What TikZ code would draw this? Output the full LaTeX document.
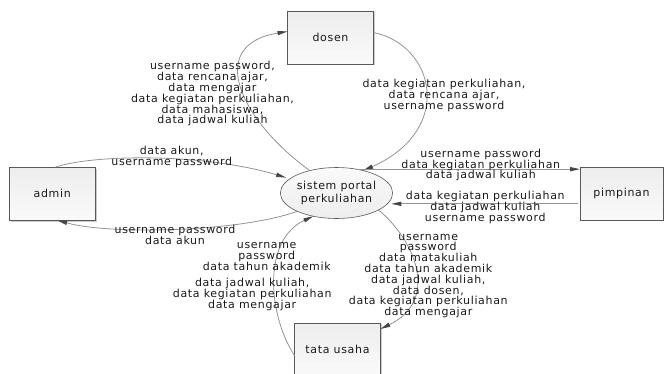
\documentclass[tikz,border=0pt]{standalone}
\usepackage{fontspec}
\setmainfont[LetterSpace=6]{DejaVu Sans}
\usetikzlibrary{arrows.meta,shapes.geometric,shadows,calc}

\tikzset{
  entity/.style={rectangle, draw=gray!70!black, line width=0.6pt,
    top color=gray!14, bottom color=gray!4,
    drop shadow={shadow xshift=1.3pt, shadow yshift=-1.3pt, fill=gray!70, opacity=.6},
    minimum width=86pt, minimum height=53pt, inner sep=0pt, outer sep=0pt,
    font=\fontsize{11}{11}\selectfont, text=black!90},
  process/.style={ellipse, draw=gray!70!black, line width=0.6pt,
    top color=gray!4, bottom color=gray!14,
    minimum width=100pt, minimum height=51pt, inner sep=0pt, outer sep=0pt,
    align=center, font=\fontsize{11}{12.5}\selectfont, text=black!90},
  flow/.style={draw=gray!85, line width=0.8pt,
    -{Triangle[length=10pt,width=4.2pt,color=gray!55!black,fill=gray!55!black]}},
  lbl/.style={align=center, inner sep=0pt,
    font=\fontsize{11}{10.8}\selectfont, text=black!90}
}

\begin{document}
\begin{tikzpicture}[x=1pt,y=-1pt]
\useasboundingbox (0,0) rectangle (665,373);

% external entities and the process
\node[entity] (dosen) at (330.5,37.5) {dosen};
\node[entity] (admin) at (52.2,193.7) {admin};
\node[entity, minimum width=83pt] (pimp) at (621.5,193.5) {pimpinan};
\node[entity] (tata) at (337.5,349.5) {tata usaha};
\node[process] (proc) at (336.5,193) {sistem portal\\perkuliahan};

% data flows
\draw[flow] (proc.140) .. controls (240,120) and (205,45) .. ([yshift=6pt]dosen.west);
\draw[flow] ([yshift=5pt]dosen.east) .. controls (435,45) and (455,130) .. (proc.40);
\draw[flow, shorten >=4pt] ([xshift=3pt]admin.north) .. controls (90,155) and (200,152) .. (proc.163);
\draw[flow] (proc.205) .. controls (240,232) and (110,235) .. ([xshift=5pt]admin.south);
\draw[flow] (proc.50) -- (proc.50 -| pimp.west);
\draw[flow, shorten >=4pt, shorten <=2pt] (pimp.west |- proc.-12) -- (proc.-12);
\draw[flow] ([yshift=-6pt]tata.west) .. controls (268,315) and (262,240) .. (proc.225);
\draw[flow] (proc.-22) .. controls (415,240) and (440,300) .. ([yshift=-6pt]tata.north east);

% flow labels
\node[lbl] (l1) at (212.5,93.8) {username password,\\data rencana ajar,\\data mengajar\\data kegiatan perkuliahan,\\data mahasiswa,\\data jadwal kuliah};
\node[lbl] (l2) at (444,95.5) {data kegiatan perkuliahan,\\data rencana ajar,\\username password};
\node[lbl] (l3) at (171.7,157) {data akun,\\username password};
\node[lbl] (l4) at (175,235) {username password\\data akun};
\node[lbl] (l5) at (480.8,165) {username password\\data kegiatan perkuliahan\\data jadwal kuliah};
\node[lbl] (l6) at (485.3,207.4) {data kegiatan perkuliahan\\data jadwal kuliah\\username password};
\node[lbl] (l7a) at (266.7,256.7) {username\\password\\data tahun akademik};
\node[lbl] (l7b) at (252.2,294.5) {data jadwal kuliah,\\data kegiatan perkuliahan\\data mengajar};
\node[lbl] (l8) at (428.3,276) {username\\password\\data matakuliah\\data tahun akademik\\data jadwal kuliah,\\data dosen,\\data kegiatan perkuliahan\\data mengajar};
\end{tikzpicture}
\end{document}
